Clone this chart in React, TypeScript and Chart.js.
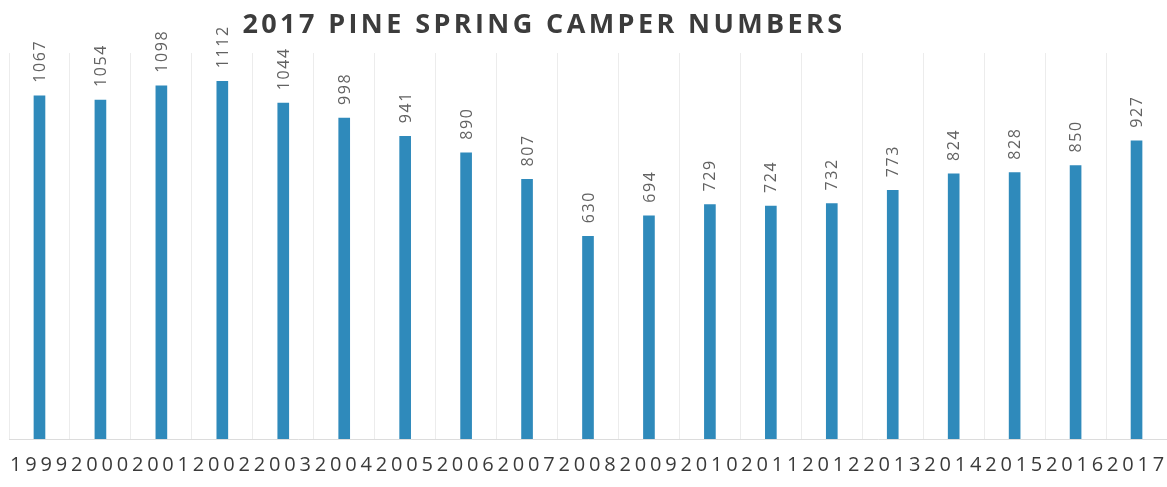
import React, { useEffect, useRef } from "react";
import { Chart, registerables } from "chart.js";

Chart.register(...registerables);

const TITLE = "2017 PINE SPRING CAMPER NUMBERS";
const YEARS = ["1999","2000","2001","2002","2003","2004","2005","2006","2007","2008","2009","2010","2011","2012","2013","2014","2015","2016","2017"];
const CAMPERS = [1067,1054,1098,1112,1044,998,941,890,807,630,694,729,724,732,773,824,828,850,927];

const overlay = {
  id: "overlay",
  afterDraw(chart: any) {
    const { ctx, chartArea } = chart;
    const meta = chart.getDatasetMeta(0);
    const xs = chart.scales.x;
    ctx.save();
    // value labels
    ctx.fillStyle = "#626262";
    ctx.font = "16px 'Open Sans'";
    (ctx as any).letterSpacing = "1.6px";
    ctx.textAlign = "left";
    ctx.textBaseline = "middle";
    meta.data.forEach((bar: any, i: number) => {
      ctx.save();
      ctx.translate(bar.x + 1, bar.y - 13);
      ctx.rotate(-Math.PI / 2);
      ctx.fillText(String(CAMPERS[i]), 0, 0);
      ctx.restore();
    });
    // x labels
    ctx.fillStyle = "#3a3a3a";
    ctx.font = "20px 'Open Sans'";
    (ctx as any).letterSpacing = "3.8px";
    ctx.textAlign = "left";
    YEARS.forEach((y, i) => {
      const w = ctx.measureText(y).width;
      const cx = xs.getPixelForValue(i);
      ctx.fillText(y, cx - w / 2 + 1, chartArea.bottom + 26);
    });
    // title
    ctx.fillStyle = "#3c3c3c";
    ctx.font = "bold 27px 'Open Sans'";
    (ctx as any).letterSpacing = "3.4px";
    const tw = ctx.measureText(TITLE).width;
    ctx.fillText(TITLE, 544 - tw / 2, 25);
    ctx.restore();
  },
};

export default function App() {
  const ref = useRef<HTMLCanvasElement>(null);
  useEffect(() => {
    document.body.style.margin = "0";
    const chart = new Chart(ref.current!, {
      type: "bar",
      data: {
        labels: YEARS,
        datasets: [
          {
            data: CAMPERS,
            backgroundColor: "#2f8abb",
            barThickness: 11,
          },
        ],
      },
      options: {
        animation: false,
        responsive: false,
        layout: { padding: { left: 9, right: 0, top: 53, bottom: 48 } },
        plugins: { legend: { display: false }, title: { display: false }, tooltip: { enabled: false } },
        scales: {
          x: {
            grid: { display: true, color: "#ececec", offset: true, drawTicks: false },
            border: { display: true, color: "#dcdcdc" },
            ticks: { display: false },
          },
          y: {
            display: false,
            min: 0,
            max: 1200,
          },
        },
      },
      plugins: [overlay],
    });
    return () => chart.destroy();
  }, []);
  return <canvas ref={ref} width={1167} height={487} style={{ display: "block" }} />;
}
